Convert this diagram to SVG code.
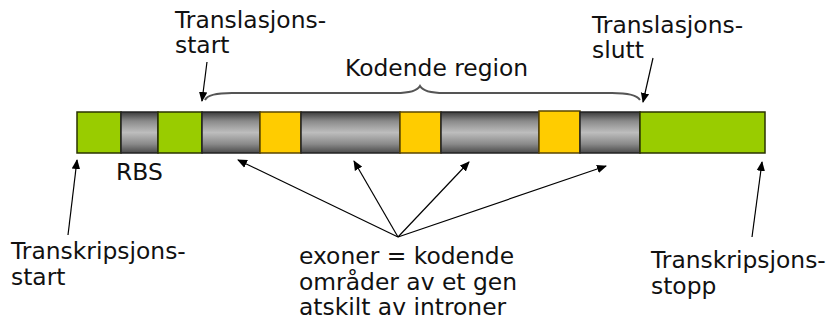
<svg xmlns="http://www.w3.org/2000/svg" width="831" height="330" viewBox="0 0 831 330">
  <defs>
    <linearGradient id="tube" x1="0" y1="0" x2="0" y2="1">
      <stop offset="0" stop-color="#3c3c3c"/>
      <stop offset="0.22" stop-color="#8a8a8a"/>
      <stop offset="0.5" stop-color="#bdbdbd"/>
      <stop offset="0.78" stop-color="#8a8a8a"/>
      <stop offset="1" stop-color="#4a4a4a"/>
    </linearGradient>
    <marker id="arrow" viewBox="0 0 10 10" refX="9" refY="5" markerWidth="10" markerHeight="10" markerUnits="userSpaceOnUse" orient="auto">
      <path d="M0,0.8 L10,5 L0,9.2 Z" fill="#000"/>
    </marker>
  </defs>
  <style>
    .lbl { font-family: "DejaVu Sans", Verdana, sans-serif; font-size: 23.4px; fill: #111; }
    .green { fill: #99cc00; stroke: #2a3300; stroke-width: 1.5; }
    .intron { fill: url(#tube); stroke: #222; stroke-width: 1.5; }
    .exon { fill: #ffcc00; stroke: #5a4500; stroke-width: 1.5; }
    .conn { stroke: #000; stroke-width: 1.2; fill: none; marker-end: url(#arrow); }
    .brace { stroke: #555; stroke-width: 2; fill: none; }
  </style>

  <!-- gene bar -->
  <g id="gene">
    <rect class="green" x="77" y="112" width="44" height="41"/>
    <rect class="intron" x="121" y="112" width="37" height="41"/>
    <rect class="green" x="158" y="112" width="44" height="41"/>
    <rect class="intron" x="202" y="112" width="58" height="41"/>
    <rect class="exon" x="260" y="112" width="41" height="41"/>
    <rect class="intron" x="301" y="112" width="99" height="41"/>
    <rect class="exon" x="400" y="112" width="41" height="41"/>
    <rect class="intron" x="441" y="112" width="98" height="41"/>
    <rect class="exon" x="539" y="111" width="41" height="42"/>
    <rect class="intron" x="580" y="112" width="60" height="41"/>
    <rect class="green" x="640" y="112" width="125" height="41"/>
  </g>

  <!-- brace over the coding region -->
  <g id="coding-region">
    <path class="brace" d="M205,100 Q208,93 232,93 L396,93 Q416,93 420,86 Q424,93 444,93 L612,93 Q636,93 640,100"/>
    <text class="lbl" x="345" y="76">Kodende region</text>
  </g>

  <g id="rbs">
    <text class="lbl" x="116" y="180">RBS</text>
  </g>

  <g id="translation-start">
    <text class="lbl" x="175" y="28">Translasjons-</text>
    <text class="lbl" x="175" y="53">start</text>
  </g>

  <g id="translation-stop">
    <text class="lbl" x="592" y="33">Translasjons-</text>
    <text class="lbl" x="592" y="58">slutt</text>
  </g>

  <g id="transcription-start">
    <text class="lbl" x="11" y="259">Transkripsjons-</text>
    <text class="lbl" x="11" y="285">start</text>
  </g>

  <g id="transcription-stop">
    <text class="lbl" x="651" y="268">Transkripsjons-</text>
    <text class="lbl" x="651" y="294">stopp</text>
  </g>

  <g id="exons">
    <text class="lbl" x="299" y="264">exoner = kodende</text>
    <text class="lbl" x="299" y="290">områder av et gen</text>
    <text class="lbl" x="299" y="315">atskilt av introner</text>
  </g>

  <!-- connectors -->
  <g id="connectors">
    <line class="conn" x1="207" y1="62" x2="202" y2="101"/>
    <line class="conn" x1="653" y1="58" x2="643" y2="102"/>
    <line class="conn" x1="68" y1="235" x2="77" y2="160"/>
    <line class="conn" x1="752" y1="237" x2="762" y2="162"/>
    <line class="conn" x1="398" y1="237" x2="238" y2="160"/>
    <line class="conn" x1="398" y1="237" x2="354" y2="161"/>
    <line class="conn" x1="398" y1="237" x2="469" y2="162"/>
    <line class="conn" x1="398" y1="237" x2="606" y2="166"/>
  </g>
</svg>
